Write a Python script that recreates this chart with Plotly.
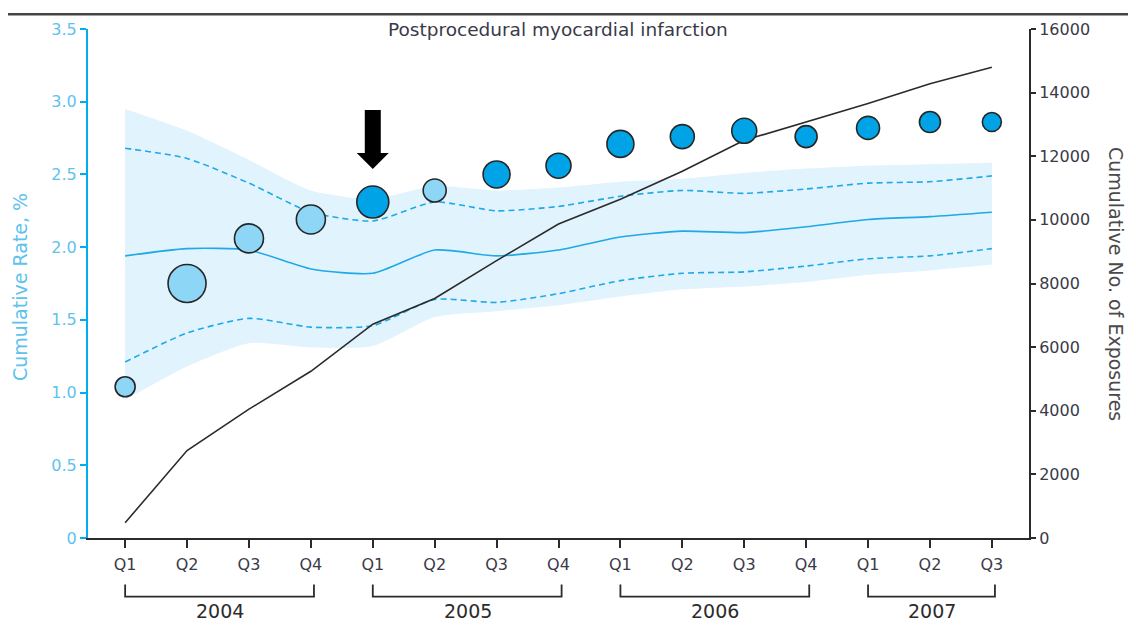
import plotly.graph_objects as go

quarters = ["Q1", "Q2", "Q3", "Q4", "Q1", "Q2", "Q3", "Q4",
            "Q1", "Q2", "Q3", "Q4", "Q1", "Q2", "Q3"]
years = ["2004", "2005", "2006", "2007"]
year_start = [0, 4, 8, 12]
year_end = [3, 7, 11, 14]

rate = [1.04, 1.75, 2.06, 2.19, 2.31, 2.39, 2.50, 2.56, 2.71, 2.76, 2.80, 2.76, 2.82, 2.86, 2.86]
dot_size = [20, 38, 29, 29, 32, 23, 27, 25, 27, 24, 25, 22, 23, 21, 19]
dot_alert = [0, 0, 0, 0, 1, 0, 1, 1, 1, 1, 1, 1, 1, 1, 1]

band_upper = [2.95, 2.80, 2.60, 2.39, 2.33, 2.42, 2.39, 2.41, 2.45, 2.47, 2.51, 2.54, 2.56, 2.57, 2.58]
dash_upper = [2.68, 2.61, 2.44, 2.24, 2.18, 2.31, 2.25, 2.28, 2.35, 2.39, 2.37, 2.40, 2.44, 2.45, 2.49]
expected = [1.94, 1.99, 1.98, 1.85, 1.82, 1.98, 1.94, 1.98, 2.07, 2.11, 2.10, 2.14, 2.19, 2.21, 2.24]
dash_lower = [1.21, 1.41, 1.51, 1.45, 1.46, 1.64, 1.62, 1.68, 1.77, 1.82, 1.83, 1.87, 1.92, 1.94, 1.99]
band_lower = [0.95, 1.18, 1.34, 1.31, 1.32, 1.52, 1.56, 1.60, 1.66, 1.71, 1.73, 1.76, 1.81, 1.84, 1.88]

exposures = [480, 2750, 4050, 5240, 6720, 7530, 8720, 9870, 10650, 11530, 12500, 13090, 13660, 14280, 14800]

left_ticks = [0, 0.5, 1.0, 1.5, 2.0, 2.5, 3.0, 3.5]
left_ticktext = ["0", "0.5", "1.0", "1.5", "2.0", "2.5", "3.0", "3.5"]
right_ticks = [0, 2000, 4000, 6000, 8000, 10000, 12000, 14000, 16000]

arrow_index = 4

x = list(range(len(quarters)))
FONT = "DejaVu Sans, Liberation Sans, Arial, sans-serif"
BLUE = "#1fa9e6"
LIGHT_DOT = "#8ed6f6"
DARK_DOT = "#00a4e6"
AXIS_BLUE = "#00aeef"
TICK_BLUE = "#5ec2ee"
DARK = "#2b2b2b"
TXT = "#3a3a48"

fig = go.Figure()

# confidence band
fig.add_trace(go.Scatter(x=x, y=band_lower, mode="lines", line=dict(width=0, shape="spline", smoothing=0.6),
                         hoverinfo="skip", showlegend=False))
fig.add_trace(go.Scatter(x=x, y=band_upper, mode="lines", line=dict(width=0, shape="spline", smoothing=0.6),
                         fill="tonexty", fillcolor="#e1f3fc", hoverinfo="skip", showlegend=False))
for arr, dash in [(dash_upper, "6px,4px"), (dash_lower, "6px,4px"), (expected, "solid")]:
    fig.add_trace(go.Scatter(x=x, y=arr, mode="lines",
                             line=dict(color=BLUE, width=1.6, dash=dash, shape="spline", smoothing=0.6),
                             showlegend=False))

# cumulative exposures
fig.add_trace(go.Scatter(x=x, y=exposures, yaxis="y2", mode="lines",
                         line=dict(color=DARK, width=1.6), showlegend=False))

# observed cumulative rate
fig.add_trace(go.Scatter(x=x, y=rate, yaxis="y3", mode="markers",
                         marker=dict(size=dot_size, opacity=1,
                                     color=[DARK_DOT if a else LIGHT_DOT for a in dot_alert],
                                     line=dict(color="#262626", width=1.6)),
                         showlegend=False))

shapes = []
shapes.append(dict(type="line", xref="paper", yref="paper", x0=-0.085, x1=1.12, y0=1.029, y1=1.029,
                   line=dict(color="#444444", width=2.5)))
shapes.append(dict(type="path", xref="x", yref="y3", xsizemode="pixel", ysizemode="pixel",
                   xanchor=arrow_index, yanchor=rate[arrow_index],
                   path="M -8,92 L 8,92 L 8,49 L 16,49 L 0,33 L -16,49 L -8,49 Z",
                   fillcolor="black", line=dict(width=0)))
for s, e in zip(year_start, year_end):
    shapes.append(dict(type="path", xref="x", yref="paper",
                       path=f"M {s},-0.0916 L {s},-0.115 L {e + 0.05},-0.115 L {e + 0.05},-0.0916",
                       line=dict(color=DARK, width=1.8)))

annotations = []
annotations.append(dict(text="Postprocedural myocardial infarction", xref="paper", yref="paper",
                        x=0.4995, y=1.0, xanchor="center", yanchor="middle", showarrow=False,
                        font=dict(family=FONT, size=18.5, color=TXT)))
for yr, s, e in zip(years, year_start, year_end):
    annotations.append(dict(text=yr, xref="x", yref="paper", x=(s + e) / 2 + 0.03, y=-0.144,
                            xanchor="center", yanchor="middle", showarrow=False,
                            font=dict(family=FONT, size=19, color=DARK)))
annotations.append(dict(text="Cumulative Rate, %", xref="paper", yref="paper",
                        x=-0.0723, y=0.493, xanchor="center", yanchor="middle", textangle=-90,
                        showarrow=False, font=dict(family=FONT, size=19, color=TICK_BLUE)))
annotations.append(dict(text="Cumulative No. of Exposures", xref="paper", yref="paper",
                        x=1.093, y=0.5, xanchor="center", yanchor="middle", textangle=90,
                        showarrow=False, font=dict(family=FONT, size=19, color="#4a4a4a")))

fig.update_layout(
    width=1128, height=618,
    margin=dict(l=80, r=107, t=17, b=88),
    paper_bgcolor="white", plot_bgcolor="white",
    font=dict(family=FONT, size=17),
    shapes=shapes, annotations=annotations,
    xaxis=dict(range=[-0.6, 14.6], tickvals=x, ticktext=quarters, showgrid=False, zeroline=False,
               showline=True, linecolor=DARK, linewidth=2, ticks="outside", ticklen=8,
               tickwidth=1.8, tickcolor=DARK, ticklabelstandoff=3,
               tickfont=dict(color=TXT, size=16)),
    yaxis=dict(range=[0, 3.5], tickvals=left_ticks, ticktext=left_ticktext,
               showgrid=False, zeroline=False, showline=True, linecolor=AXIS_BLUE, linewidth=2,
               ticks="outside", ticklen=6, tickwidth=2, tickcolor=AXIS_BLUE,
               tickfont=dict(color=TICK_BLUE, size=16)),
    yaxis2=dict(range=[0, 16000], overlaying="y", side="right", tickvals=right_ticks,
                ticktext=[str(v) for v in right_ticks],
                showgrid=False, zeroline=False, showline=True, linecolor=DARK, linewidth=2,
                ticks="outside", ticklen=5, tickwidth=1.8, tickcolor=DARK,
                tickfont=dict(color=TXT, size=16)),
    yaxis3=dict(range=[0, 3.5], overlaying="y", visible=False),
)

fig.write_html("out.html")
